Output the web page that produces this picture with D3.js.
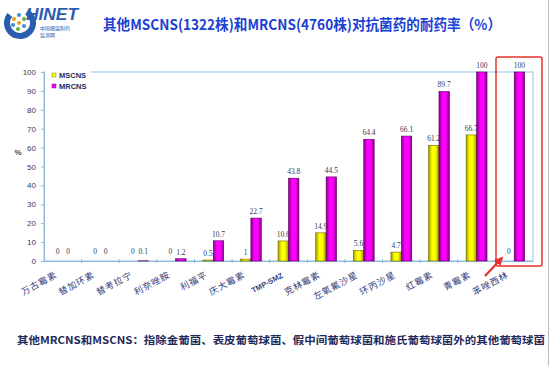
<!DOCTYPE html>
<html><head><meta charset="utf-8">
<script src="https://cdn.jsdelivr.net/npm/d3@7"></script>
<style>body{margin:0;background:#fff}svg{display:block}</style>
</head><body>
<script>
const categories = ["万古霉素","替加环素","替考拉宁","利奈唑胺","利福平","庆大霉素","TMP-SMZ","克林霉素","左氧氟沙星","环丙沙星","红霉素","青霉素","苯唑西林"];
const seriesNames = ["MSCNS","MRCNS"];
const mscns = [0,0,0,0,0.5,1,10.6,14.9,5.6,4.7,61.2,66.7,0];
const mrcns = [0,0,0.1,1.2,10.7,22.7,43.8,44.5,64.4,66.1,89.7,100,100];
const yTicks = [0,10,20,30,40,50,60,70,80,90,100];
const title = "其他MSCNS(1322株)和MRCNS(4760株)对抗菌药的耐药率（%）";
const footnote = "其他MRCNS和MSCNS：指除金葡菌、表皮葡萄球菌、假中间葡萄球菌和施氏葡萄球菌外的其他葡萄球菌";

const W=550,H=366;
const svg=d3.select("body").append("svg").attr("width",W).attr("height",H);
const defs=svg.append("defs");
function grad(id,edge,mid){
  const g=defs.append("linearGradient").attr("id",id).attr("x1","0").attr("x2","1").attr("y1","0").attr("y2","0");
  g.append("stop").attr("offset","0%").attr("stop-color",edge);
  g.append("stop").attr("offset","35%").attr("stop-color",mid);
  g.append("stop").attr("offset","65%").attr("stop-color",mid);
  g.append("stop").attr("offset","100%").attr("stop-color",edge);
}
grad("gY","#9a9a00","#ffff00");
grad("gM","#8a008a","#ff00ff");
const fills={MSCNS:"url(#gY)",MRCNS:"url(#gM)"};
const strokes={MSCNS:"#6b6b00",MRCNS:"#5a005a"};

const L=44,R=533,T=72,B=261;
const x=d3.scaleBand().domain(categories).range([L,R]).padding(0);
const xs=d3.scaleBand().domain(seriesNames).range([0,x.bandwidth()]).paddingInner(0).paddingOuter(0.8);
const y=d3.scaleLinear().domain([0,100]).range([B,T]);

// logo
const logo=svg.append("g");
const arc=d3.arc().innerRadius(10).outerRadius(16).startAngle(0.55).endAngle(Math.PI*2-0.9);
logo.append("path").attr("d",arc()).attr("transform","translate(20,23)").attr("fill","#2a5db0");
[[14,19,"#e8a020"],[19,15,"#3a8fd0"],[24,19,"#60b040"],[13,25,"#3a8fd0"],[19,23,"#e8a020"],[24,26,"#3a8fd0"],[18,29,"#60b040"]].forEach(d=>logo.append("circle").attr("cx",d[0]).attr("cy",d[1]).attr("r",2).attr("fill",d[2]));
logo.append("text").attr("x",26).attr("y",20).attr("font-family","Liberation Sans,Arial").attr("font-weight","bold").attr("font-style","italic").attr("font-size",17).attr("fill","#2a5db0").attr("textLength",52).attr("lengthAdjust","spacingAndGlyphs").text("HINET");
logo.append("text").attr("x",40).attr("y",30).attr("font-family","Noto Sans CJK SC").attr("font-size",5).attr("fill","#2a5db0").text("中国细菌耐药");
logo.append("text").attr("x",40).attr("y",37).attr("font-family","Noto Sans CJK SC").attr("font-size",5).attr("fill","#2a5db0").text("监测网");

// title
svg.append("text").attr("x",302).attr("y",30).attr("text-anchor","middle")
  .attr("font-family","Noto Sans CJK SC").attr("font-weight","bold").attr("font-size",14.5)
  .attr("fill","#1c3fd4").attr("textLength",398).attr("lengthAdjust","spacingAndGlyphs").text(title);

// frame
svg.append("rect").attr("x",L).attr("y",T).attr("width",R-L).attr("height",B-T).attr("fill","none").attr("stroke","#a8cbe8").attr("stroke-width",1.2);

// y axis
const yAxis=svg.append("g").attr("transform",`translate(${L},0)`).call(d3.axisLeft(y).tickValues(yTicks).tickSize(3).tickPadding(5));
yAxis.select(".domain").attr("stroke","#8fb8e0");
yAxis.selectAll(".tick line").attr("stroke","#8fb8e0");
yAxis.selectAll("text").attr("font-family","Liberation Sans,Arial").attr("font-size",8).attr("fill","#333a55");
svg.append("text").attr("x",18).attr("y",155).attr("text-anchor","middle").attr("font-family","Liberation Sans,Arial").attr("font-weight","bold").attr("font-size",8).attr("fill","#333a55").text("%");

// x axis
const xAxis=svg.append("g").attr("transform",`translate(0,${B})`).call(d3.axisBottom(x).tickSize(0).tickFormat(""));
xAxis.select(".domain").attr("stroke","#8fb8e0");
svg.append("g").selectAll("line").data(categories.slice(1)).join("line")
  .attr("x1",d=>x(d)).attr("x2",d=>x(d)).attr("y1",B-2).attr("y2",B+2).attr("stroke","#8fb8e0");

// bars
const data=categories.map((c,i)=>({c,vals:[{s:"MSCNS",v:mscns[i]},{s:"MRCNS",v:mrcns[i]}]}));
const groups=svg.append("g").selectAll("g").data(data).join("g").attr("transform",d=>`translate(${x(d.c)},0)`);
groups.selectAll("rect").data(d=>d.vals).join("rect")
  .attr("x",d=>xs(d.s)).attr("width",xs.bandwidth())
  .attr("y",d=>y(d.v)).attr("height",d=>B-y(d.v))
  .attr("fill",d=>fills[d.s]).attr("stroke",d=>d.v>0?strokes[d.s]:"none").attr("stroke-width",0.6);
groups.selectAll("text").data(d=>d.vals).join("text")
  .attr("x",d=>xs(d.s)+xs.bandwidth()/2).attr("y",d=>y(d.v)-(d.v<=0.1?7:4))
  .attr("text-anchor","middle").attr("font-family","Liberation Serif,Times New Roman").attr("font-size",7.5)
  .attr("fill","#33395a").text(d=>d.v);

// x labels
svg.append("g").selectAll("text").data(categories).join("text")
  .attr("transform",d=>`translate(${x(d)+x.bandwidth()/2-5},${B+16}) rotate(-28)`)
  .attr("text-anchor","end")
  .attr("font-family",d=>d==="TMP-SMZ"?"Liberation Sans,Arial":"Noto Sans CJK SC")
  .attr("font-weight",d=>d==="TMP-SMZ"?"bold":"normal")
  .attr("font-size",d=>d==="TMP-SMZ"?7.5:9)
  .attr("letter-spacing",d=>d==="TMP-SMZ"?0:0.8)
  .attr("fill","#33407a").text(d=>d);

// legend
const lg=svg.append("g");
lg.append("rect").attr("x",L+1).attr("y",T-2).attr("width",46).attr("height",24).attr("fill","#fff");
seriesNames.forEach((s,i)=>{
  lg.append("rect").attr("x",L+8).attr("y",T+1+i*11).attr("width",4).attr("height",4).attr("fill",s==="MSCNS"?"#ffff00":"#ff00ff").attr("stroke",strokes[s]).attr("stroke-width",0.4);
  lg.append("text").attr("x",L+15).attr("y",T+6+i*11).attr("font-family","Liberation Sans,Arial").attr("font-weight","bold").attr("font-size",7.5).attr("fill","#1f2a5a").text(s);
});

// highlight box & arrow
svg.append("rect").attr("x",496).attr("y",57).attr("width",46).attr("height",209).attr("fill","none").attr("stroke","#e8312a").attr("stroke-width",1.5).attr("rx",2);
defs.append("marker").attr("id","ah").attr("viewBox","0 0 10 10").attr("refX",8).attr("refY",5).attr("markerWidth",4).attr("markerHeight",4).attr("orient","auto")
  .append("path").attr("d","M0,0L10,5L0,10z").attr("fill","#e8312a");
svg.append("line").attr("x1",485).attr("y1",276).attr("x2",502).attr("y2",258).attr("stroke","#e8312a").attr("stroke-width",2.2).attr("marker-end","url(#ah)");

// footnote
svg.append("text").attr("x",17).attr("y",344).attr("font-family","Noto Sans CJK SC").attr("font-weight","bold").attr("font-size",10.5)
  .attr("fill","#1f2a5a").attr("textLength",528).attr("lengthAdjust","spacingAndGlyphs").text(footnote);
svg.append("line").attr("x1",548.5).attr("x2",548.5).attr("y1",0).attr("y2",H).attr("stroke","#bbb");
</script>
</body></html>
